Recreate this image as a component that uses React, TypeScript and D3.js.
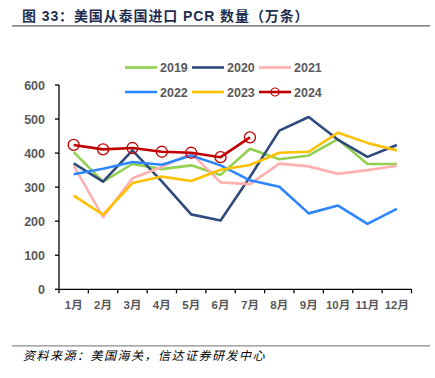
import React from "react";
import * as d3 from "d3";

const months = ["1月","2月","3月","4月","5月","6月","7月","8月","9月","10月","11月","12月"];
const yTicks = [0,100,200,300,400,500,600];
const s2019 = [403,316,368,353,364,336,413,382,393,441,368,368];
const s2020 = [370,316,408,317,220,202,330,466,506,439,389,424];
const s2021 = [363,212,326,359,400,314,309,369,361,339,350,363];
const s2022 = [338,354,374,366,393,364,320,301,223,246,192,236];
const s2023 = [275,219,312,331,318,351,365,401,404,460,430,408];
const s2024 = [424,411,415,404,401,388,446];

const seriesNames = ["2019","2020","2021","2022","2023","2024"];
const seriesData = [s2019,s2020,s2021,s2022,s2023,s2024];
const colors = ["#92d050","#2f4b7c","#ffb0b0","#2e86ff","#ffc000","#c00000"];

const W = 435, H = 378;
const left = 59, right = 411.5, top = 85, bottom = 289.3;

export default function App() {
  const x = d3.scaleBand<string>().domain(months).range([left, right]);
  const y = d3.scaleLinear().domain([0, 600]).range([bottom, top]);
  const line = d3.line<number>()
    .x((_, i) => (x(months[i]) as number) + x.bandwidth() / 2)
    .y((d) => y(d));
  const labelFont = "'Liberation Sans', Arial, sans-serif";
  const cjk = "'Liberation Sans', 'Noto Sans CJK SC', sans-serif";
  const gray = "#595959";
  const legendPos = [
    [125, 67.5],[192, 67.5],[259, 67.5],
    [125, 92],[192, 92],[259, 92],
  ];
  return (
    <svg width={W} height={H} style={{ position: "absolute", left: 0, top: 0, background: "#fff" }}>
      <text x={22} y={21} fontFamily={cjk} fontWeight="bold" fontSize={14} letterSpacing={0.9} fill="#1f2e50">图 33：美国从泰国进口 PCR 数量（万条）</text>
      <line x1={12} x2={430} y1={25.8} y2={25.8} stroke="#8c8c8c" strokeWidth={1.8} />
      {/* axes */}
      <line x1={left} x2={left} y1={top} y2={bottom} stroke="#000" strokeWidth={1.3} />
      <line x1={left} x2={right} y1={bottom} y2={bottom} stroke="#000" strokeWidth={1.3} />
      {yTicks.map((t) => (
        <g key={t}>
          <line x1={left - 4} x2={left} y1={y(t)} y2={y(t)} stroke="#000" strokeWidth={1.3} />
          <text x={45} y={y(t) + 4.5} textAnchor="end" fontFamily={labelFont} fontWeight="bold" fontSize={12.5} fill={gray}>{t}</text>
        </g>
      ))}
      {months.map((m) => (
        <line key={"tk" + m} x1={x(m) as number} x2={x(m) as number} y1={bottom} y2={bottom + 4} stroke="#000" strokeWidth={1.3} />
      ))}
      <line x1={right} x2={right} y1={bottom} y2={bottom + 4} stroke="#000" strokeWidth={1.3} />
      {months.map((m) => (
        <text key={m} x={(x(m) as number) + x.bandwidth() / 2} y={309} textAnchor="middle" fontFamily={cjk} fontWeight="bold" fontSize={11.5} fill={gray}>{m}</text>
      ))}
      {/* series */}
      {seriesData.map((d, si) => (
        <path key={seriesNames[si]} d={line(d) || ""} fill="none" stroke={colors[si]} strokeWidth={2.6} strokeLinejoin="round" />
      ))}
      {s2024.map((v, i) => (
        <circle key={"m" + i} cx={(x(months[i]) as number) + x.bandwidth() / 2} cy={y(v)} r={5.5} fill="none" stroke="#c00000" strokeWidth={1.3} />
      ))}
      {/* legend */}
      {seriesNames.map((n, i) => {
        const [lx, ly] = legendPos[i];
        return (
          <g key={"lg" + n}>
            <line x1={lx} x2={lx + 32} y1={ly} y2={ly} stroke={colors[i]} strokeWidth={2.6} />
            {n === "2024" && <circle cx={lx + 16} cy={ly} r={4} fill="none" stroke="#c00000" strokeWidth={1.2} />}
            <text x={lx + 35} y={ly + 4.5} fontFamily={labelFont} fontWeight="bold" fontSize={12.5} fill={gray}>{n}</text>
          </g>
        );
      })}
      <line x1={12} x2={430} y1={345.8} y2={345.8} stroke="#8c8c8c" strokeWidth={1.3} />
      <text x={23} y={360} fontFamily="'Noto Sans CJK SC', sans-serif" fontStyle="italic" fontSize={12} letterSpacing={1.5} fill="#000">资料来源：美国海关，信达证券研发中心</text>
    </svg>
  );
}
